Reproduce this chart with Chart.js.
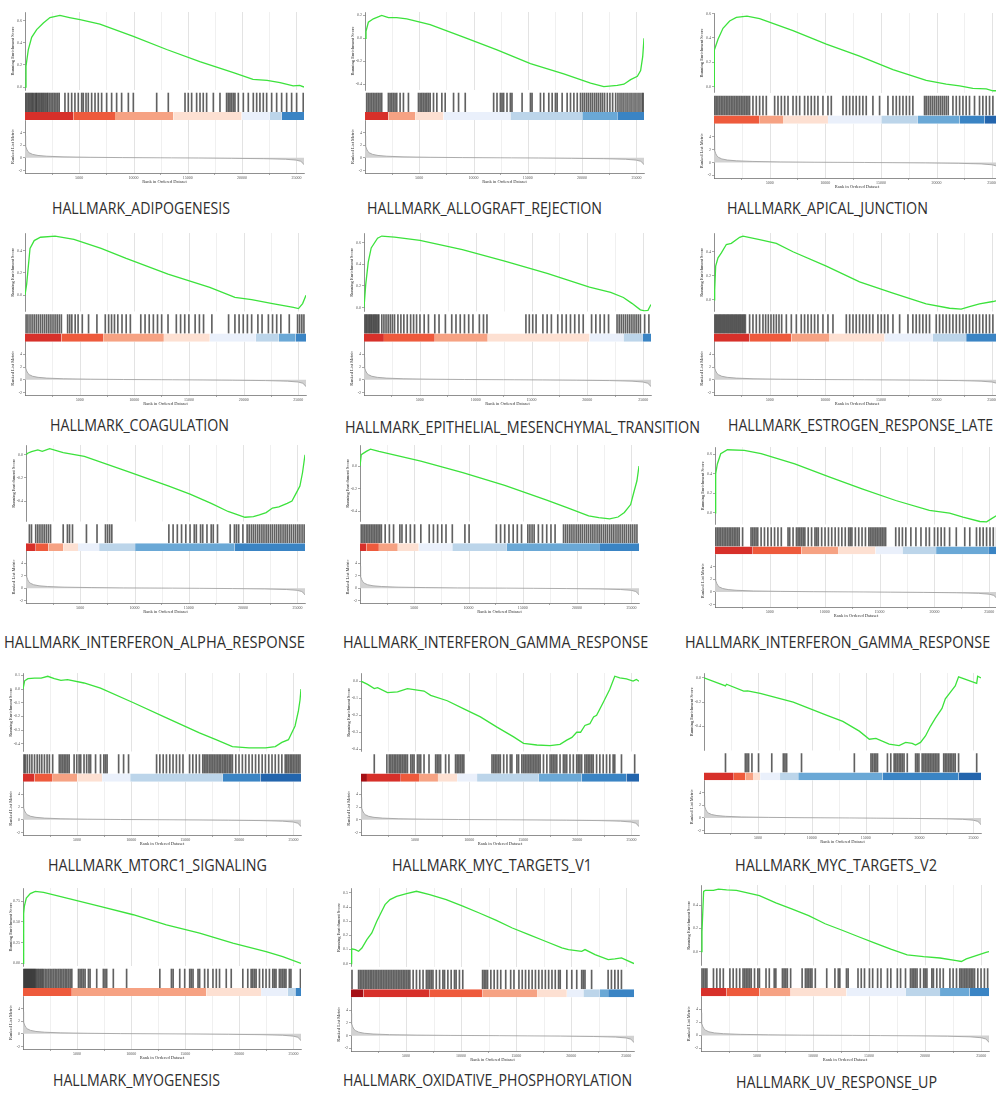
<!DOCTYPE html>
<html>
<head>
<meta charset="utf-8">
<title>GSEA hallmark enrichment plots</title>
<script src="https://cdn.jsdelivr.net/npm/chart.js@4.4.1/dist/chart.umd.min.js"></script>
<style>
  html, body { margin: 0; padding: 0; background: #fff; }
  body { width: 996px; height: 1093px; position: relative; overflow: hidden; }
  canvas { position: absolute; }
  .setname { position: absolute; font-family: "Open Sans", sans-serif; font-size: 15.5px; line-height: 18px;
             color: #2e2e2e; white-space: nowrap; transform-origin: 0 50%; }
</style>
</head>
<body>
<script>
// ---- ranked list ----
const listSize = 25700;
const rankTicks = [5000, 10000, 15000, 20000, 25000];
const gridRanks = [2500, 5000, 7500, 10000, 12500, 15000, 17500, 20000, 22500, 25000];
const metricTicks = [-2, 0, 2, 4];
const rankedMetric = [[0,3.5],[30,2.6],[80,1.9],[150,1.4],[250,1.05],[400,0.8],[700,0.55],[1200,0.38],[2000,0.26],
  [3500,0.16],[6000,0.09],[9000,0.04],[12500,0.01],[13500,0],[16000,-0.03],[19000,-0.07],[22000,-0.13],
  [24000,-0.22],[25000,-0.36],[25400,-0.55],[25600,-0.85],[25700,-1.1]];

const geneSets = ['HALLMARK_ADIPOGENESIS','HALLMARK_ALLOGRAFT_REJECTION','HALLMARK_APICAL_JUNCTION',
  'HALLMARK_COAGULATION','HALLMARK_EPITHELIAL_MESENCHYMAL_TRANSITION','HALLMARK_ESTROGEN_RESPONSE_LATE',
  'HALLMARK_INTERFERON_ALPHA_RESPONSE','HALLMARK_INTERFERON_GAMMA_RESPONSE','HALLMARK_INTERFERON_GAMMA_RESPONSE',
  'HALLMARK_MTORC1_SIGNALING','HALLMARK_MYC_TARGETS_V1','HALLMARK_MYC_TARGETS_V2',
  'HALLMARK_MYOGENESIS','HALLMARK_OXIDATIVE_PHOSPHORYLATION','HALLMARK_UV_RESPONSE_UP'];

// y ticks of the running score panels
const esTicksA = [0, 0.2, 0.4, 0.6];
const esTicksB = [-0.4, -0.2, 0, 0.2];
const esTicksC = [0, 0.2, 0.4];
const esTicksD = [-0.4, -0.2, 0];
const esTicksE = [-0.4, -0.3, -0.2, -0.1, 0, 0.1];
const esTicksF = [-0.4, -0.3, -0.2, -0.1, 0];
const esTicksG = [0, 0.25, 0.5, 0.75];
const esTicksH = [0, 0.1, 0.2, 0.3, 0.4, 0.5];

// running enrichment score, [rank, score]
const esAdipogenesis = [[0,0],[92,0.19],[307,0.34],[614,0.45],[1075,0.52],[1690,0.58],[2300,0.63],[3220,0.65],[4100,0.63],
  [5070,0.61],[6900,0.57],[9980,0.46],[13050,0.34],[16100,0.23],[19200,0.13],[21000,0.07],[22300,0.06],[23500,0.04],
  [24700,0.01],[25300,0.015],[25700,0]];
const esAllograft = [[0,0],[92,0.06],[308,0.14],[770,0.17],[1540,0.2],[2155,0.18],[2924,0.18],[3850,0.17],[6000,0.12],
  [9080,0.01],[12160,-0.1],[15240,-0.22],[18310,-0.31],[20780,-0.39],[22000,-0.42],[23240,-0.41],[23850,-0.4],
  [24470,-0.36],[25090,-0.33],[25390,-0.28],[25580,-0.16],[25700,0]];
const esApical = [[0,0],[30,0.3],[360,0.39],[808,0.48],[1407,0.54],[2006,0.57],[2964,0.58],[4100,0.56],[7096,0.46],
  [10090,0.35],[13080,0.25],[16080,0.14],[19070,0.05],[20870,0.02],[22070,0.005],[23260,-0.015],[24460,-0.02],
  [25060,-0.035],[25600,-0.035],[25700,0]];
const esCoagulation = [[0,0],[153,0.1],[268,0.22],[459,0.42],[841,0.49],[1415,0.52],[2753,0.53],[4474,0.5],[6960,0.42],
  [9254,0.33],[13080,0.19],[16900,0.07],[19200,-0.02],[20730,-0.04],[22640,-0.075],[24550,-0.11],[25010,-0.12],
  [25390,-0.075],[25700,0]];
const esEmt = [[0,0],[152,0.21],[380,0.42],[645,0.55],[1215,0.64],[1594,0.66],[2733,0.65],[5011,0.62],[8807,0.535],
  [12600,0.43],[16400,0.315],[20190,0.19],[22090,0.14],[23230,0.094],[23990,0.04],[24750,-0.02],[25130,-0.03],
  [25430,-0.025],[25700,0.03]];
const esEstrogen = [[0,0],[60,0.083],[150,0.28],[360,0.35],[660,0.39],[1108,0.46],[1557,0.47],[2305,0.52],[2605,0.53],
  [4100,0.5],[5600,0.47],[7096,0.4],[10090,0.28],[13080,0.15],[16080,0.056],[19070,-0.033],[21170,-0.07],
  [22210,-0.078],[22960,-0.056],[23860,-0.033],[25060,-0.014],[25700,0]];
const esIfnAlpha = [[0,0],[156,0.014],[506,0.028],[1090,0.042],[1500,0.03],[2180,0.054],[3427,0.02],[5374,-0.014],
  [9268,-0.14],[13160,-0.27],[15110,-0.34],[17060,-0.42],[18610,-0.49],[20170,-0.54],[20950,-0.535],[21500,-0.52],
  [22120,-0.5],[22700,-0.46],[23290,-0.45],[24060,-0.42],[24500,-0.4],[24840,-0.34],[25230,-0.27],[25470,-0.155],[25700,0]];
const esIfnGammaA = [[0,0],[116,0.1],[580,0.13],[966,0.15],[1740,0.13],[5604,0.043],[9470,-0.057],[13330,-0.17],
  [17200,-0.3],[19130,-0.37],[21060,-0.44],[22000,-0.455],[23000,-0.466],[23770,-0.45],[24350,-0.41],[24930,-0.34],
  [25200,-0.24],[25510,-0.13],[25700,0]];
const esIfnGammaB = [[0,0],[61,0.4],[215,0.5],[521,0.605],[1135,0.646],[2668,0.64],[4202,0.605],[7270,0.5],[10340,0.37],
  [13400,0.246],[16470,0.126],[19540,0.024],[21380,-0.003],[22600,-0.044],[24140,-0.089],[24750,-0.092],[25210,-0.06],
  [25670,-0.027],[25700,0]];
const esMtorc1 = [[0,0],[152,0.06],[457,0.076],[1067,0.08],[1677,0.08],[2287,0.093],[2897,0.076],[3506,0.063],[4116,0.068],
  [5640,0.044],[7165,0.007],[10210,-0.1],[13260,-0.21],[16310,-0.32],[17840,-0.37],[19360,-0.42],[20890,-0.43],
  [22410,-0.43],[23320,-0.42],[23930,-0.39],[24540,-0.37],[25150,-0.27],[25460,-0.16],[25610,-0.08],[25700,0]];
const esMycV1 = [[0,0],[613,-0.019],[1227,-0.044],[1534,-0.038],[2454,-0.067],[3374,-0.063],[4294,-0.044],[5214,-0.052],
  [5827,-0.058],[6441,-0.083],[7974,-0.115],[9508,-0.163],[11040,-0.21],[12570,-0.27],[14110,-0.327],[15030,-0.365],
  [16260,-0.375],[17480,-0.379],[18400,-0.371],[19020,-0.346],[19500,-0.33],[19940,-0.3],[20300,-0.3],[20700,-0.26],
  [21160,-0.25],[21500,-0.21],[21780,-0.2],[22390,-0.125],[23000,-0.048],[23460,0.029],[23920,0.019],[24540,0.013],
  [25150,0],[25460,0.01],[25700,0]];
const esMycV2 = [[0,0],[1994,-0.067],[2086,-0.053],[3680,-0.11],[4048,-0.107],[5214,-0.128],[8281,-0.2],[11350,-0.307],
  [12880,-0.36],[14410,-0.44],[15340,-0.507],[15950,-0.5],[17180,-0.547],[18100,-0.56],[18710,-0.533],[19320,-0.541],
  [19630,-0.555],[20090,-0.533],[20550,-0.48],[21010,-0.4],[21470,-0.333],[22080,-0.253],[22390,-0.173],[22850,-0.12],
  [23310,-0.067],[23620,0.008],[25300,-0.045],[25390,0.013],[25700,0]];
const esMyogenesis = [[0,0],[61,0.6],[123,0.685],[307,0.786],[675,0.84],[1136,0.867],[1903,0.855],[4052,0.786],
  [7122,0.685],[10190,0.585],[13260,0.464],[16330,0.363],[19400,0.242],[22470,0.141],[24010,0.081],[25700,0]];
const esOxphos = [[0,0],[60,0.104],[390,0.099],[690,0.087],[990,0.11],[1441,0.17],[1891,0.217],[2342,0.3],[2792,0.37],
  [3092,0.417],[3542,0.453],[4143,0.476],[5043,0.495],[5944,0.512],[7145,0.488],[8646,0.453],[10150,0.406],
  [11650,0.358],[13150,0.307],[14650,0.252],[16150,0.205],[17650,0.158],[19150,0.111],[19750,0.099],[20950,0.087],
  [21250,0.099],[22160,0.064],[23360,0.028],[23960,0.033],[24560,0.04],[25700,0]];
const esUv = [[0,0],[88,0.172],[234,0.52],[381,0.528],[1113,0.528],[1553,0.54],[2285,0.533],[3164,0.528],[4043,0.51],
  [5215,0.483],[6680,0.42],[8145,0.367],[9610,0.31],[11075,0.24],[12540,0.186],[14005,0.13],[15470,0.075],
  [16935,0.02],[18400,-0.028],[19865,-0.044],[21330,-0.056],[22795,-0.078],[23235,-0.086],[23674,-0.064],
  [24553,-0.036],[25432,-0.008],[25700,0]];

// ranks of the gene-set members
const hitsAdipogenesis = [30,150,280,400,520,640,750,880,1000,1100,1230,1350,1480,1600,1720,1850,1980,2100,2250,2400,2550,
  2700,2850,3000,3150,3680,3990,4300,4600,4910,5220,5370,5620,5830,6140,6450,6750,7060,7520,7980,8440,8900,9520,9980,
  12130,13200,14740,15040,15350,15810,16120,16420,16730,17350,17960,18570,18730,18880,19030,19190,19340,19650,20110,
  20570,21030,21340,21640,21950,22260,22720,23180,23640,24100,24560,25020,25630];
const hitsAllograft = [154,308,462,616,770,923,1077,1231,1385,1539,2155,2309,2462,2616,2770,2924,3232,3540,4001,4925,5079,
  5233,5387,5540,5694,5848,6002,6310,6618,7079,7387,8157,8618,9234,11850,12160,12470,12620,12770,13080,13390,13540,
  14470,15240,15390,16160,16470,16930,17240,17540,17700,18160,18620,18930,19240,19550,19850,20040,20220,20410,20590,
  20780,20960,21150,21330,21510,21700,21880,22070,22320,22560,22810,23090,23300,23490,23670,23850,24040,24220,24410,
  24590,24780,24960,25150,25330,25520,25640];
const hitsApical = [60,200,350,500,650,800,950,1100,1250,1400,1550,1700,1850,2000,2150,2300,2450,2600,2750,2900,3050,3200,
  3500,3800,4100,4400,4700,5450,5750,6050,6350,6650,7100,7400,7700,8140,8440,8740,9040,9340,9790,10240,10540,11590,
  11890,12190,12490,12780,13080,13380,13680,14280,14880,15630,16080,16380,16680,16980,17280,17570,17870,18920,19070,
  19250,19430,19610,19790,19970,20150,20330,20510,20690,20870,21050,21470,21770,22070,22370,22660,22960,23410,23860,
  24160,24460,24760,25060];
const hitsCoagulation = [100,268,459,650,841,1032,1224,1415,1606,1797,1988,2180,2371,2562,2753,2944,3136,3327,3900,4092,
  4283,4589,4856,5239,5812,6577,7342,7648,7916,8183,8489,8872,9254,9636,10590,10980,11360,11740,12120,12500,13080,
  13840,14230,14610,14990,15560,15950,16330,17090,18620,19200,19580,19960,20340,20730,21300,21680,22260,22640,23020,
  23400,24170,24930,25120,25320,25510];
const hitsEmt = [76,190,304,418,531,645,759,873,987,1101,1215,1329,1594,1784,1974,2164,2354,2543,2733,3037,3303,3568,3872,
  4176,4441,4707,5011,5390,5770,6339,6719,7288,7858,8237,8617,8997,9376,9756,10330,10700,11010,14500,14800,15110,15410,
  16020,16400,16780,17350,17730,18110,18490,18870,19250,19630,20380,20760,21140,21520,21900,22660,22850,23040,23230,
  23420,23610,23800,23990,24180,24370,24560,24750,25130,25510];
const hitsEstrogen = [60,180,300,420,540,660,780,900,1020,1140,1260,1380,1500,1620,1740,1860,1980,2100,2220,2340,2460,2580,
  2700,2820,3200,3500,3800,4100,4400,4640,4880,5120,5360,5600,5840,6080,6500,6950,7400,7840,8140,8440,8740,9040,9340,
  9790,10240,10690,11890,12190,12490,12780,13080,13380,13680,13980,14280,14730,15030,15330,15630,16080,16680,17430,
  17870,18170,18470,18770,19070,19370,19970,20270,20570,20870,21170,21470,21770,22070,22370,22660,22960,23260,23560,
  23860,24160,24460,24760,25060];
const hitsIfnAlpha = [312,506,896,1090,1285,1480,1674,1869,2064,2259,3427,3816,4011,4283,5568,6542,7321,7515,7710,7905,
  13160,13550,13940,14330,14720,15110,15500,15690,16080,16280,16670,17060,17250,17640,18810,19200,19390,19590,19980,
  20370,20560,20760,20950,21140,21340,21530,21730,21920,22120,22310,22510,22700,22900,23090,23290,23480,23680,23870,
  24060,24260,24450,24650,24840,25040,25230,25430,25620];
const hitsIfnGammaA = [116,271,425,580,734,889,1044,1198,1353,1507,1662,1817,1971,2319,2706,3092,3672,3865,4252,4638,5025,
  5604,6377,6764,7150,7537,7923,8503,9663,10050,12560,12950,13330,13720,14110,14490,14880,15460,15650,15850,16040,
  16430,16810,17200,17590,17970,18750,18940,19130,19330,19520,19710,19910,20100,20290,20480,20680,20870,21060,21260,
  21450,21640,21840,22030,22220,22420,22610,22800,23000,23190,23380,23580,23770,23960,24160,24350,24540,24740,24930,
  25120,25320,25510];
const hitsIfnGammaB = [61,215,368,521,675,828,981,1135,1288,1441,1595,1748,1902,2055,2208,2515,3282,3435,3588,3742,3895,
  4202,4508,4815,5122,5429,5735,6042,6655,6809,7115,7422,7575,7729,7882,8036,8189,8496,8802,9109,9262,9416,9722,10030,
  10340,10640,10950,11260,11560,11870,12180,12330,12480,12790,13100,13400,13710,14020,14170,14320,14480,14630,14780,
  14940,15090,15240,15400,15550,16470,16780,17080,17390,17850,18310,18770,19230,19540,20000,20300,20610,20920,21380,
  21990,22760,23220,23830,24140,24440,24750,25060,25360,25670];
const hitsMtorc1 = [91,213,396,610,823,1067,1311,1525,1738,1982,2226,2439,2744,3354,3506,3659,3811,3964,4116,4269,4726,
  4970,5183,5336,5641,5885,6098,6250,6708,7165,7470,7623,7775,8842,9299,9757,12350,12650,12960,13260,13570,13870,
  14180,14480,14790,15400,15700,16010,16310,16620,16770,16920,17070,17230,17380,17530,17680,17840,17990,18140,18290,
  18450,18600,18750,18900,19060,19210,19360,19670,19970,20280,20580,20890,21190,21500,21800,22110,22410,22720,23020,
  23320,23630,23930,24240,24390,24540,24700,24850,25000,25150,25310,25460,25610];
const hitsMycV1 = [1227,2392,2607,2760,2914,3067,3220,3374,3527,3680,3834,3987,4140,4294,4600,4754,4907,5214,5367,5520,
  5827,6287,6900,7054,7207,7361,7821,8128,8741,8894,9048,9201,9354,9508,12110,12270,12420,12570,12730,12880,13190,
  13490,13800,13950,14410,14570,14870,15030,15180,15340,15490,15640,15800,15950,16100,16260,16410,16560,16870,17180,
  17480,17640,17790,17940,18100,18400,18710,18860,19020,19320,19630,19940,20090,20240,20400,20700,20860,21010,21160,
  21320,21470,21780,22080,22390,22700,23000,23310,23460,24080,25300];
const hitsMycV2 = [1994,3834,3987,4140,4447,5061,6287,7361,7514,7668,9048,13950,15490,15640,15800,15950,16100,17020,17330,
  17640,17790,17940,18100,18250,18400,18560,18860,19630,19780,19940,20240,20400,20550,20700,20860,21010,21160,21320,
  21470,21620,21780,22240,22390,22540,22700,22850,23000,23160,23310,23620,25300];
const hitsMyogenesis = [61,154,246,338,430,522,614,706,798,890,982,1075,1167,1289,1412,1535,1658,1781,1903,2057,2210,2364,
  2517,2671,2824,2978,3131,3285,3438,3592,3745,3899,4052,4206,4359,4513,5127,5280,5434,5587,5741,6048,6201,6815,7429,
  7583,7736,8350,9578,12650,13720,13880,14490,14950,15410,15560,15720,16180,16330,16790,17100,17560,17870,18170,18790,
  19250,20320,20780,21090,21240,21400,21550,21860,22170,22470,22780,23090,23240,23390,23700,23850,24010,24160,24310,
  24620,24770,25650];
const hitsOxphos = [90,690,841,991,1141,1291,1441,1591,1741,1891,2041,2191,2342,2492,2642,2792,2942,3092,3242,3392,3542,
  3692,3843,3993,4143,4293,4443,4593,4743,4893,5043,5193,5344,5644,5944,6244,6544,6845,6995,7145,7295,7445,7745,8045,
  8346,8496,8796,9096,9396,9546,9847,10150,11950,12100,12250,12400,12700,13000,13300,13600,14050,14500,14800,15250,
  15550,15850,16150,16450,16750,17050,17350,17650,17950,18250,18550,18850,19000,19600,20050,20500,20950,21100,21250,
  21850,23350,23650,23960,24260,24560];
const hitsUv = [88,234,381,527,1113,1406,1699,1992,2578,2871,3164,3457,3750,3897,4043,4190,4336,4483,4776,5069,5215,5801,
  6094,6534,6680,7266,7413,7559,7706,7999,9024,9317,9464,9610,9757,9903,10200,11220,11950,12250,12390,12980,13130,
  14010,14300,14590,15030,15320,15760,16060,16640,16940,17520,17810,18250,18690,18840,18990,19130,19280,19570,19870,
  20010,20160,20600,20740,21040,21330,21620,22210,22500,22800,23090,23230,23380,23530,23670,23820,23970,24110,24260,
  24410,24700,24990,25290,25580];

// colour band: rank breaks and the level of each interval (0 = strongest up, 9 = strongest down)
const heatAdipogenesis = [0,4450,8290,13660,19960,22560,23640,25700];
const binsAdipogenesis = [1,2,3,4,5,6,8];
const heatAllograft = [0,2150,4620,7230,13390,20010,23240,25700];
const binsAllograft = [1,3,4,5,6,7,8];
const heatApical = [0,4100,6200,10240,15030,18320,22070,24310,25700];
const binsApical = [2,3,4,5,6,7,8,9];
const heatCoagulation = [0,3327,7150,12700,16900,21110,23210,24740,25700];
const binsCoagulation = [1,2,3,4,5,6,7,8];
const heatEmt = [0,1784,6339,11080,20190,23230,24940,25700];
const binsEmt = [1,2,3,4,5,6,8];
const heatEstrogen = [0,3200,6950,10390,15330,19670,22660,25700];
const binsEstrogen = [1,2,3,4,5,6,8];
const heatIfnAlpha = [0,896,2064,3427,4790,6737,10050,19200,25700];
const binsIfnAlpha = [1,2,3,4,5,6,7,8];
const heatIfnGammaA = [0,580,1740,3480,5410,8500,13530,22030,25700];
const binsIfnGammaA = [1,2,3,4,5,6,7,8];
const heatIfnGammaB = [0,3435,7882,11260,14630,17080,20150,24900,25700];
const binsIfnGammaB = [1,2,3,4,5,6,7,8];
const heatMtorc1 = [0,1067,2744,5031,7318,9909,18450,21950,25700];
const binsMtorc1 = [1,2,3,4,5,6,8,9];
const heatMycV1 = [0,552,3680,5367,7115,8894,10730,16410,20400,24540,25700];
const binsMycV1 = [0,1,2,3,4,5,6,7,8,9];
const heatMycV2 = [0,2760,3834,4600,5214,7054,8741,16560,23620,25700];
const binsMycV2 = [1,2,3,4,5,6,7,8,9];
const heatMyogenesis = [0,4513,16940,22010,24470,25180,25700];
const binsMyogenesis = [2,3,4,5,6,8];
const heatOxphos = [0,1141,7145,11950,16900,19600,21100,22600,23350,25700];
const binsOxphos = [0,1,2,3,4,5,6,7,8];
const heatUv = [0,2285,5215,8000,12980,18250,21330,23970,25700];
const binsUv = [1,2,3,4,5,6,7,8];

const heatPalette = ['#a50f15','#d7302a','#ee5a3c','#f6a283','#fde0d2','#eaf0fb','#bcd5ea','#6aa8d6','#3a84c4','#2365ad'];

// panel placement: box = [plot left, plot right, score top, metric bottom], label = [x, y centre, width]
const panels = [
  {name: geneSets[0],  es: esAdipogenesis, hits: hitsAdipogenesis, heat: heatAdipogenesis, bins: binsAdipogenesis, yr: [-0.027, 0.68],  ticks: esTicksA, dec: 1, box: [25, 304, 12, 173],   label: [52, 208, 178]},
  {name: geneSets[1],  es: esAllograft,    hits: hitsAllograft,    heat: heatAllograft,    bins: binsAllograft,    yr: [-0.45, 0.229],   ticks: esTicksB, dec: 1, box: [365, 644, 12, 173],  label: [367, 208, 235]},
  {name: geneSets[2],  es: esApical,       hits: hitsApical,       heat: heatApical,       bins: binsApical,       yr: [-0.053, 0.606],  ticks: esTicksA, dec: 1, box: [714, 1000, 13, 178], label: [727, 208, 201]},
  {name: geneSets[3],  es: esCoagulation,  hits: hitsCoagulation,  heat: heatCoagulation,  bins: binsCoagulation,  yr: [-0.146, 0.558],  ticks: esTicksC, dec: 1, box: [25, 306, 233, 395],  label: [50, 425, 179]},
  {name: geneSets[4],  es: esEmt,          hits: hitsEmt,          heat: heatEmt,          bins: binsEmt,          yr: [-0.035, 0.688],  ticks: esTicksA, dec: 1, box: [364, 651, 233, 395], label: [345, 427, 355]},
  {name: geneSets[5],  es: esEstrogen,     hits: hitsEstrogen,     heat: heatEstrogen,     bins: binsEstrogen,     yr: [-0.097, 0.556],  ticks: esTicksC, dec: 1, box: [714, 1000, 233, 395], label: [728, 425, 265]},
  {name: geneSets[6],  es: esIfnAlpha,     hits: hitsIfnAlpha,     heat: heatIfnAlpha,     bins: binsIfnAlpha,     yr: [-0.577, 0.085],  ticks: esTicksD, dec: 1, box: [26, 305, 445, 603],  label: [4, 642, 301]},
  {name: geneSets[7],  es: esIfnGammaA,    hits: hitsIfnGammaA,    heat: heatIfnGammaA,    bins: binsIfnGammaA,    yr: [-0.49, 0.186],   ticks: esTicksD, dec: 1, box: [360, 639, 445, 603], label: [343, 642, 305]},
  {name: geneSets[8],  es: esIfnGammaB,    hits: hitsIfnGammaB,    heat: heatIfnGammaB,    bins: binsIfnGammaB,    yr: [-0.12, 0.674],   ticks: esTicksA, dec: 1, box: [715, 997, 447, 607], label: [685, 642, 305]},
  {name: geneSets[9],  es: esMtorc1,       hits: hitsMtorc1,       heat: heatMtorc1,       bins: binsMtorc1,       yr: [-0.456, 0.117],  ticks: esTicksE, dec: 1, box: [23, 301, 673, 835],  label: [48, 865, 219]},
  {name: geneSets[10], es: esMycV1,        hits: hitsMycV1,        heat: heatMycV1,        bins: binsMycV1,        yr: [-0.413, 0.048],  ticks: esTicksF, dec: 1, box: [361, 639, 673, 835], label: [392, 865, 200]},
  {name: geneSets[11], es: esMycV2,        hits: hitsMycV2,        heat: heatMycV2,        bins: binsMycV2,        yr: [-0.6, 0.04],     ticks: esTicksD, dec: 1, box: [704, 981, 673, 833], label: [735, 865, 202]},
  {name: geneSets[12], es: esMyogenesis,   hits: hitsMyogenesis,   heat: heatMyogenesis,   bins: binsMyogenesis,   yr: [-0.032, 0.907],  ticks: esTicksG, dec: 2, box: [23, 301, 888, 1049], label: [53, 1080, 167]},
  {name: geneSets[13], es: esOxphos,       hits: hitsOxphos,       heat: heatOxphos,       bins: binsOxphos,       yr: [-0.024, 0.535],  ticks: esTicksH, dec: 1, box: [351, 634, 888, 1051], label: [343, 1080, 289]},
  {name: geneSets[14], es: esUv,           hits: hitsUv,           heat: heatUv,           bins: binsUv,           yr: [-0.12, 0.575],   ticks: esTicksC, dec: 1, box: [701, 989, 885, 1051], label: [736, 1082, 201]}
];

const AXW = 16;          // width of the left axis strip
const tinyFont = { size: 4, family: 'Liberation Serif' };
const titleFont = { size: 4.5, family: 'Liberation Serif' };

// light vertical grid in the score and metric panels only
const rankGrid = {
  id: 'rankGrid',
  beforeDatasetsDraw(chart) {
    const { ctx, scales: { x, es, rk } } = chart;
    ctx.save();
    ctx.lineWidth = 1;
    gridRanks.forEach(v => {
      const px = Math.round(x.getPixelForValue(v)) + 0.5;
      ctx.strokeStyle = v % 5000 ? '#f0f0f0' : '#e3e3e3';
      [es, rk].forEach(s => {
        ctx.beginPath(); ctx.moveTo(px, s.top); ctx.lineTo(px, s.bottom); ctx.stroke();
      });
    });
    ctx.restore();
  }
};

function leftAxis(weight, min, max, extra) {
  return Object.assign({
    type: 'linear', position: 'left', stack: 'gsea', stackWeight: weight, min, max,
    afterFit: s => { s.width = AXW; },
    ticks: { display: false },
    grid: { display: false },
    border: { display: false }
  }, extra);
}

function drawPanel(p) {
  const [left, right, top, bottom] = p.box;
  const w = AXW + (right - left) + 3;
  const h = 4 + (bottom - top) + 12;
  const cv = document.createElement('canvas');
  cv.width = w; cv.height = h;
  cv.style.left = (left - AXW) + 'px';
  cv.style.top = (top - 4) + 'px';
  cv.style.width = w + 'px';
  cv.style.height = h + 'px';
  document.body.appendChild(cv);

  const axisLook = {
    ticks: { display: true, font: tinyFont, color: '#555', padding: 1 },
    grid: { display: true, drawOnChartArea: false, drawTicks: true, tickLength: 2, color: '#555', lineWidth: 0.5 },
    border: { display: true, color: '#444', width: 0.6 }
  };

  new Chart(cv, {
    type: 'line',
    data: {
      datasets: [
        {
          type: 'line', xAxisID: 'x', yAxisID: 'rk',
          data: rankedMetric.map(([x, y]) => ({ x, y })),
          borderColor: '#9a9a9a', borderWidth: 0.8, backgroundColor: '#d2d2d2',
          fill: 'origin', pointRadius: 0, tension: 0
        },
        {
          type: 'line', xAxisID: 'x', yAxisID: 'hm',
          data: p.heat.map(x => ({ x, y: 1 })),
          borderColor: 'transparent', borderWidth: 0, pointRadius: 0, fill: 'start',
          backgroundColor: heatPalette[p.bins[0]],
          segment: { backgroundColor: ctx => heatPalette[p.bins[ctx.p0DataIndex]] }
        },
        {
          type: 'bar', xAxisID: 'x', yAxisID: 'bc',
          data: p.hits.map(x => ({ x, y: [0, 1] })),
          backgroundColor: 'rgba(0,0,0,0.62)', barThickness: 1, borderWidth: 0
        },
        {
          type: 'line', xAxisID: 'x', yAxisID: 'es',
          data: p.es.map(([x, y]) => ({ x, y })),
          borderColor: '#3ce23c', borderWidth: 1.3, pointRadius: 0, fill: false, tension: 0
        }
      ]
    },
    options: {
      responsive: false,
      animation: false,
      events: [],
      layout: { padding: { top: 4, right: 3, left: 0, bottom: 0 } },
      plugins: { legend: { display: false }, tooltip: { enabled: false } },
      scales: {
        x: {
          type: 'linear', min: 0, max: listSize, offset: false,
          afterBuildTicks: s => { s.ticks = rankTicks.map(v => ({ value: v })); },
          afterFit: s => { s.height = 12; },
          ticks: { font: tinyFont, color: '#555', padding: 1, maxRotation: 0, autoSkip: false, callback: v => String(v) },
          grid: axisLook.grid,
          border: axisLook.border,
          title: { display: true, text: 'Rank in Ordered Dataset', font: titleFont, color: '#333', padding: { top: 0, bottom: 0 } }
        },
        rk: leftAxis(53, -2.4, 6, {
          afterBuildTicks: s => { s.ticks = metricTicks.map(v => ({ value: v })); },
          ticks: axisLook.ticks, grid: axisLook.grid, border: axisLook.border,
          title: { display: true, text: 'Ranked List Metric', font: titleFont, color: '#333', padding: { top: 1, bottom: 0 } }
        }),
        hm: leftAxis(8, 0, 1),
        bc: leftAxis(22, 0, 1.16),
        es: leftAxis(78, p.yr[0], p.yr[1], {
          afterBuildTicks: s => { s.ticks = p.ticks.map(v => ({ value: v })); },
          ticks: Object.assign({}, axisLook.ticks, { callback: v => v.toFixed(p.dec) }),
          grid: axisLook.grid, border: axisLook.border,
          title: { display: true, text: 'Running Enrichment Score', font: titleFont, color: '#333', padding: { top: 1, bottom: 0 } }
        })
      }
    },
    plugins: [rankGrid]
  });

  // gene set name under the plot
  const t = document.createElement('div');
  t.className = 'setname';
  t.textContent = p.name;
  t.style.left = p.label[0] + 'px';
  t.style.top = (p.label[1] - 9) + 'px';
  document.body.appendChild(t);
  t.style.transform = 'scaleX(' + (p.label[2] / t.getBoundingClientRect().width).toFixed(3) + ')';
}

panels.forEach(drawPanel);
</script>
</body>
</html>
